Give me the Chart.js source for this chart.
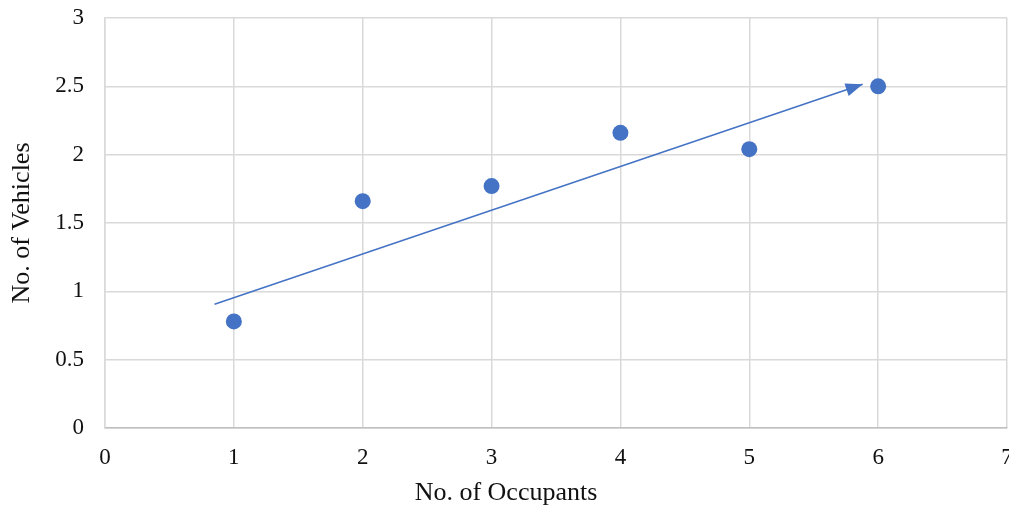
<!DOCTYPE html>
<html>
<head>
<meta charset="utf-8">
<script src="https://cdn.jsdelivr.net/npm/chart.js@4.4.1/dist/chart.umd.min.js"></script>
<style>
  html, body { margin: 0; padding: 0; background: #fff; overflow: hidden; }
  .chart-box { width: 1015px; height: 507px; position: relative; }
</style>
</head>
<body>
<div class="chart-box">
  <canvas id="occupancyChart"></canvas>
</div>
<script>
// Observed values
const occupants = [1, 2, 3, 4, 5, 6];
const vehicles = [0.78, 1.66, 1.77, 2.16, 2.04, 2.5];

// Trend arrow, start and end
const arrowX = [0.85, 5.88];
const arrowY = [0.905, 2.515];

// Axis ticks
const xTicks = [0, 1, 2, 3, 4, 5, 6, 7];
const yTicks = [0, 0.5, 1, 1.5, 2, 2.5, 3];

const blue = "#4472C4";
const serif = "'Liberation Serif', 'Times New Roman', serif";

// Arrowhead at the end of the trend line
const arrowHead = {
  id: "arrowHead",
  afterDatasetsDraw(chart) {
    const meta = chart.getDatasetMeta(1);
    const pts = meta.data;
    if (pts.length < 2) return;
    const a = pts[pts.length - 2];
    const b = pts[pts.length - 1];
    const ang = Math.atan2(b.y - a.y, b.x - a.x);
    const len = 17;
    const half = 6.5;
    const ctx = chart.ctx;
    ctx.save();
    ctx.translate(b.x, b.y);
    ctx.rotate(ang);
    ctx.beginPath();
    ctx.moveTo(0, 0);
    ctx.lineTo(-len, -half);
    ctx.lineTo(-len, half);
    ctx.closePath();
    ctx.fillStyle = blue;
    ctx.fill();
    ctx.restore();
  },
};

const ctx = document.getElementById("occupancyChart").getContext("2d");
new Chart(ctx, {
  type: "scatter",
  data: {
    datasets: [
      {
        label: "Vehicles",
        data: occupants.map((x, i) => ({ x: x, y: vehicles[i] })),
        backgroundColor: blue,
        borderWidth: 0,
        pointRadius: 8,
        pointHoverRadius: 8,
      },
      {
        type: "line",
        label: "Trend",
        data: arrowX.map((x, i) => ({ x: x, y: arrowY[i] })),
        borderColor: blue,
        borderWidth: 1.5,
        pointRadius: 0,
        fill: false,
      },
    ],
  },
  options: {
    responsive: true,
    maintainAspectRatio: false,
    animation: false,
    layout: { padding: { top: 18, left: 0, right: 3, bottom: 0 } },
    scales: {
      x: {
        type: "linear",
        min: 0,
        max: 7,
        afterBuildTicks: (scale) => {
          scale.ticks = xTicks.map((v) => ({ value: v }));
        },
        afterFit: (scale) => {
          scale.height = 50.4;
          // let the last label run off the edge
          scale.paddingLeft = 0;
          scale.paddingRight = 0;
        },
        ticks: {
          color: "#111",
          padding: 16,
          font: { family: serif, size: 23 },
          maxRotation: 0,
          callback: (v) => String(v),
        },
        grid: { color: "#d9d9d9", lineWidth: 1.5, drawTicks: false },
        border: { color: "#bfbfbf", width: 1.5 },
      },
      y: {
        min: 0,
        max: 3,
        afterBuildTicks: (scale) => {
          scale.ticks = yTicks.map((v) => ({ value: v }));
        },
        afterFit: (scale) => {
          scale.width = 105;
          scale.paddingTop = 0;
          scale.paddingBottom = 0;
        },
        ticks: {
          color: "#111",
          padding: 21,
          font: { family: serif, size: 23 },
          callback: (v) => String(v),
        },
        grid: { color: "#d9d9d9", lineWidth: 1.5, drawTicks: false },
        border: { color: "#d9d9d9", width: 1.5 },
        title: {
          display: true,
          text: "No. of Vehicles",
          color: "#111",
          padding: { top: 6.4, bottom: 0 },
          font: { family: serif, size: 26, lineHeight: 1.2 },
        },
      },
    },
    plugins: {
      legend: { display: false },
      tooltip: { enabled: false },
      title: {
        display: true,
        position: "bottom",
        text: "No. of Occupants",
        color: "#111",
        padding: 0,
        font: { family: serif, size: 26, weight: "normal", lineHeight: 1.1 },
      },
    },
  },
  plugins: [arrowHead],
});
</script>
</body>
</html>
